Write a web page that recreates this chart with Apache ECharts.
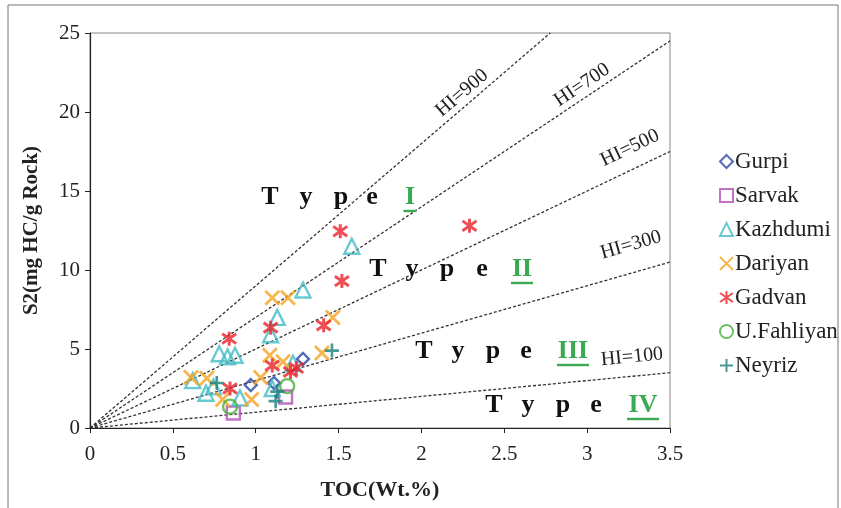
<!DOCTYPE html>
<html>
<head>
<meta charset="utf-8">
<script src="https://cdn.jsdelivr.net/npm/echarts@6/dist/echarts.min.js"></script>
<style>
  html, body { margin: 0; padding: 0; background: #fff; }
  #chart { width: 841px; height: 508px; }
</style>
</head>
<body>
<div id="chart"></div>
<script>
// sample points [TOC, S2]
var gurpi = [[0.97, 2.72], [1.11, 2.85], [1.285, 4.37]];
var sarvak = [[0.865, 0.95], [1.18, 1.96]];
var kazhdumi = [[1.58, 11.5], [1.285, 8.73], [1.13, 7.0], [1.09, 5.9], [0.78, 4.7], [0.83, 4.5],
  [0.875, 4.6], [0.62, 3.0], [0.70, 2.2], [0.745, 2.6], [0.905, 1.9], [1.10, 2.5], [1.225, 4.1]];
var dariyan = [[1.195, 8.25], [1.10, 8.25], [1.465, 7.0], [1.40, 4.75], [1.085, 4.6], [1.165, 4.2],
  [1.03, 3.2], [0.61, 3.2], [0.705, 3.15], [0.80, 1.8], [0.975, 1.8]];
var gadvan = [[1.51, 12.45], [2.29, 12.8], [1.52, 9.3], [0.84, 5.65], [1.09, 6.35], [1.41, 6.5],
  [0.845, 2.5], [1.10, 3.95], [1.21, 3.55], [1.245, 3.8]];
var uFahliyan = [[0.845, 1.35], [1.19, 2.65]];
var neyriz = [[0.765, 2.85], [1.46, 4.9], [1.12, 1.7], [1.13, 2.3]];

// hydrogen index reference lines
var hiValues = [900, 700, 500, 300, 100];
var xMax = 3.5, yMax = 25;

var serif = '"Liberation Serif", "DejaVu Serif", serif';

var X_PATH = 'path://M0,0L10,10M10,0L0,10';
var STAR_PATH = 'path://M0,1.5L10,8.5M10,1.5L0,8.5M5,0L5,10';
var PLUS_PATH = 'path://M5,0L5,10M0,5L10,5';

function sampleSeries(name, data, symbol, size, color, lw) {
  return {
    name: name,
    type: 'scatter',
    data: data,
    symbol: symbol,
    symbolSize: size,
    z: 5,
    itemStyle: {
      color: 'rgba(0,0,0,0)',
      borderColor: color,
      borderWidth: lw || 2.4
    }
  };
}

var series = [];
hiValues.forEach(function (hi) {
  var k = hi / 100;
  var endX = Math.min(xMax, yMax / k);
  series.push({
    name: 'HI=' + hi,
    type: 'line',
    data: [[0, 0], [endX, endX * k]],
    symbol: 'none',
    silent: true,
    z: 1,
    lineStyle: { color: '#333', width: 1.3, type: [3, 2] }
  });
});
series.push(sampleSeries('Gurpi', gurpi, 'diamond', 12, '#2b45a6'));
series.push(sampleSeries('Sarvak', sarvak, 'rect', 13, '#b44fb6'));
series.push(sampleSeries('Kazhdumi', kazhdumi, 'triangle', 15, '#44bcc6'));
series.push(sampleSeries('Dariyan', dariyan, X_PATH, 14, '#f5a420', 2.8));
series.push(sampleSeries('Gadvan', gadvan, STAR_PATH, 14, '#e8232b', 3));
series.push(sampleSeries('U.Fahliyan', uFahliyan, 'circle', 14, '#4aae3c'));
series.push(sampleSeries('Neyriz', neyriz, PLUS_PATH, 14, '#17807b', 2.6));

// "Type" labels
var graphics = [
  { type: 'rect', shape: { x: 8, y: 5, width: 830, height: 510 }, style: { fill: 'none', stroke: '#777', lineWidth: 1 }, silent: true }
];
function typeLabel(x, y, numeral, offs, ulWidth) {
  var letters = ['T', 'y', 'p', 'e'];
  letters.forEach(function (ch, i) {
    graphics.push({
      type: 'text', x: x + offs[i], y: y, z: 10,
      style: { text: ch, font: 'bold 26px ' + serif, fill: '#111', align: 'center', verticalAlign: 'middle' }
    });
  });
  var nx = x + offs[4];
  graphics.push({
    type: 'text', x: nx, y: y, z: 10,
    style: { text: numeral, font: 'bold 26px ' + serif, fill: '#3aaa52', align: 'center', verticalAlign: 'middle' }
  });
  graphics.push({
    type: 'line', z: 10,
    shape: { x1: nx - ulWidth / 2, y1: y + 14, x2: nx + ulWidth / 2, y2: y + 14 },
    style: { stroke: '#3aaa52', lineWidth: 2.4 }
  });
}
typeLabel(270, 197, 'I', [0, 36, 71, 102, 140], 13);
typeLabel(378, 269, 'II', [0, 34, 69, 104, 144], 22);
typeLabel(424, 351, 'III', [0, 34, 69, 102, 149], 32);
typeLabel(494, 405, 'IV', [0, 34, 69, 102, 149], 32);

// HI labels along the lines
function hiLabel(text, x, y, deg) {
  graphics.push({
    type: 'text', x: x, y: y, rotation: deg * Math.PI / 180, z: 10,
    style: { text: text, font: '20px ' + serif, fill: '#222', align: 'center', verticalAlign: 'middle' }
  });
}
hiLabel('HI=900', 462, 93, 40.6);
hiLabel('HI=700', 582, 85, 33.7);
hiLabel('HI=500', 630, 148, 25.5);
hiLabel('HI=300', 631, 245, 16);
hiLabel('HI=100', 632, 357, 5.4);

var chart = echarts.init(document.getElementById('chart'));
chart.setOption({
  animation: false,
  backgroundColor: '#fff',
  grid: { left: 90, top: 33, right: 171, bottom: 80, show: true, borderColor: '#888', borderWidth: 1 },
  legend: {
    data: ['Gurpi', 'Sarvak', 'Kazhdumi', 'Dariyan', 'Gadvan', 'U.Fahliyan', 'Neyriz'],
    orient: 'vertical',
    left: 714,
    top: 145,
    itemGap: 11,
    itemWidth: 13,
    itemHeight: 13,
    textStyle: { fontFamily: serif, fontSize: 23, color: '#222', padding: [0, 0, 0, -3] }
  },
  xAxis: {
    type: 'value',
    min: 0, max: xMax, interval: 0.5,
    name: 'TOC(Wt.%)',
    nameLocation: 'middle',
    nameGap: 51,
    nameTextStyle: { fontFamily: serif, fontSize: 22, fontWeight: 'bold', color: '#222' },
    axisLine: { show: true, lineStyle: { color: '#222', width: 1.2 } },
    axisTick: { show: true, length: 5, lineStyle: { color: '#222' } },
    axisLabel: { fontFamily: serif, fontSize: 21, color: '#222', margin: 16 },
    splitLine: { show: false }
  },
  yAxis: {
    type: 'value',
    min: 0, max: yMax, interval: 5,
    name: 'S2(mg HC/g Rock)',
    nameLocation: 'middle',
    nameGap: 48,
    nameRotate: 90,
    nameTextStyle: { fontFamily: serif, fontSize: 21, fontWeight: 'bold', color: '#222' },
    axisLine: { show: true, lineStyle: { color: '#222', width: 1.2 } },
    axisTick: { show: true, length: 5, lineStyle: { color: '#222' } },
    axisLabel: { fontFamily: serif, fontSize: 21, color: '#222', margin: 10 },
    splitLine: { show: false }
  },
  graphic: graphics,
  series: series
});
</script>
</body>
</html>
